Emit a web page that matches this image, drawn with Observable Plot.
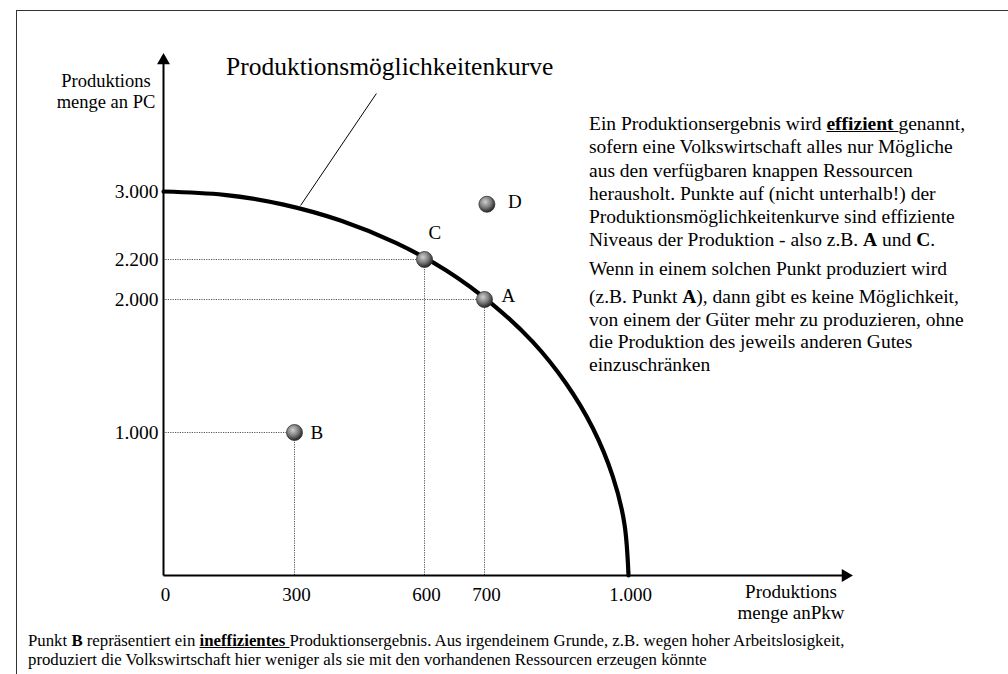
<!DOCTYPE html>
<html>
<head>
<meta charset="utf-8">
<script src="https://cdn.jsdelivr.net/npm/d3@7"></script>
<script src="https://cdn.jsdelivr.net/npm/@observablehq/plot@0.6"></script>
<style>
  html, body { margin: 0; padding: 0; background: #fff; }
  body, .t { font-family: "Liberation Serif", "Times New Roman", serif; color: #000; }
  #wrap { position: relative; width: 1008px; height: 674px; overflow: hidden; }
  #frame { position: absolute; left: 16px; top: 10px; width: 1100px; height: 800px;
           border-left: 1.5px solid #333; border-top: 1.5px solid #333; }
  #chart { position: absolute; left: 0; top: 0; }
  .t { position: absolute; white-space: nowrap; }
  #title { left: 226px; top: 53.5px; font-size: 25.5px; line-height: 25.5px; }
  #ytitle { left: 36px; top: 71px; width: 140px; text-align: center; font-size: 18.5px; line-height: 21px; }
  #xtitle { left: 721px; top: 581px; width: 140px; text-align: center; font-size: 19px; line-height: 21px; }
  #para { left: 589px; top: 112px; font-size: 19.5px; line-height: 23.3px; }
  #para .p2 { margin-top: 5.5px; }
  #para .p3 { margin-top: 5.5px; line-height: 22.5px; }
  #cap { left: 28px; top: 631px; font-size: 16.8px; line-height: 19px; }
</style>
</head>
<body>
<div id="wrap">
  <div id="frame"></div>
  <div id="chart"></div>
  <div class="t" id="title">Produktionsmöglichkeitenkurve</div>
  <div class="t" id="ytitle">Produktions<br>menge an PC</div>
  <div class="t" id="xtitle">Produktions<br>menge anPkw</div>
  <div class="t" id="para">
    <div>Ein Produktionsergebnis wird <b><u>effizient </u></b>genannt,<br>
    sofern eine Volkswirtschaft alles nur Mögliche<br>
    aus den verfügbaren knappen Ressourcen<br>
    herausholt. Punkte auf (nicht unterhalb!) der<br>
    Produktionsmöglichkeitenkurve sind effiziente<br>
    Niveaus der Produktion - also z.B. <b>A</b> und <b>C</b>.</div>
    <div class="p2">Wenn in einem solchen Punkt produziert wird</div>
    <div class="p3">(z.B. Punkt <b>A</b>), dann gibt es keine Möglichkeit,<br>
    von einem der Güter mehr zu produzieren, ohne<br>
    die Produktion des jeweils anderen Gutes<br>
    einzuschränken</div>
  </div>
  <div class="t" id="cap">Punkt <b>B</b> repräsentiert ein <b><u>ineffizientes </u></b>Produktionsergebnis. Aus irgendeinem Grunde, z.B. wegen hoher Arbeitslosigkeit,<br>produziert die Volkswirtschaft hier weniger als sie mit den vorhandenen Ressourcen erzeugen könnte</div>
</div>
<script>
// ---- data ----
const xTicks = [0, 300, 600, 700, 1000];          // PKW
const yTicks = [1000, 2000, 2200, 3000];          // PC
const pointNames = ["A", "B", "C", "D"];
const pointX = [700, 300, 600, 705];
const pointY = [2000, 1000, 2200, 2850];
const guideNames = ["A", "B", "C"];               // points with dotted guides
// production possibility curve
const curveX = [0, 139, 275, 408, 534, 637, 716, 800, 870, 926, 967, 992, 1000];
const curveY = [3000, 2961, 2846, 2656, 2395, 2144, 1966, 1683, 1368, 1030, 695, 350, 0];
// leader line from label to curve
const leader = [{x1: 314, y1: 2835, x2: 489, y2: 3374}];
const axisEnd = {x: 1500, y: 3500};

// ---- layout (scale configuration; the drawing is not to scale) ----
const xDomain = [0, 300, 600, 700, 1000, 1500];
const xRange  = [163, 294, 424, 484, 628, 845];
const yDomain = [0, 1000, 2000, 2200, 3000, 3500];
const yRange  = [575, 432, 299, 259, 191, 60];
const labelOffset = {A: [17, -4], B: [16, 0], C: [4, -27], D: [21, -2]};

const points = pointNames.map((n, i) => ({name: n, x: pointX[i], y: pointY[i]}));
const guides = points.filter(p => guideNames.includes(p.name));
const curve = curveX.map((x, i) => ({x, y: curveY[i]}));
const de = d3.formatLocale({decimal: ",", thousands: ".", grouping: [3], currency: ["", " €"]});
const fmt = de.format(",");

const chart = Plot.plot({
  width: 1008,
  height: 674,
  margin: 0,
  style: {background: "transparent", fontFamily: "'Liberation Serif','Times New Roman',serif", fontSize: "19px", overflow: "visible"},
  x: {type: "linear", domain: xDomain, range: xRange, axis: null},
  y: {type: "linear", domain: yDomain, range: yRange, axis: null},
  marks: [
    // dotted guides
    Plot.ruleY(guides, {y: "y", x1: () => 0, x2: "x", stroke: "#555", strokeWidth: 1, strokeDasharray: "1.2,1.2"}),
    Plot.ruleX(guides, {x: "x", y1: () => 0, y2: "y", stroke: "#555", strokeWidth: 1, strokeDasharray: "1.2,1.2"}),
    // axes
    Plot.link([axisEnd], {x1: () => 0, y1: () => 0, x2: d => d.x, y2: () => 0, stroke: "black", strokeWidth: 2}),
    Plot.link([axisEnd], {x1: () => 0, y1: () => 0, x2: () => 0, y2: d => d.y, stroke: "black", strokeWidth: 2}),
    Plot.dot([axisEnd], {x: () => 0, y: d => d.y, symbol: "triangle", r: 4.8, fill: "black", stroke: null}),
    Plot.dot([axisEnd], {x: d => d.x, y: () => 0, symbol: "triangle", r: 4.8, fill: "black", stroke: null, rotate: 90}),
    // tick labels
    Plot.text(xTicks, {x: d => d, y: () => 0, text: d => fmt(d), dy: 19, dx: 2, fontSize: 19}),
    Plot.text(yTicks, {x: () => 0, y: d => d, text: d => fmt(d), textAnchor: "end", dx: -5, fontSize: 19.5}),
    // curve and leader
    Plot.line(curve, {x: "x", y: "y", curve: "natural", stroke: "black", strokeWidth: 4.2}),
    Plot.link(leader, {x1: "x1", y1: "y1", x2: "x2", y2: "y2", stroke: "black", strokeWidth: 1}),
    // points
    Plot.dot(points, {x: "x", y: "y", r: 8, fill: "url(#ball)", stroke: "#333", strokeWidth: 0.8}),
    Plot.text(points, {x: "x", y: "y", text: "name", textAnchor: "start", fontSize: 19})
  ]
});
document.getElementById("chart").appendChild(chart);

// radial gradient for the ball-shaped points
d3.select(chart).insert("defs", ":first-child").html(
  '<radialGradient id="ball" cx="40%" cy="35%" r="65%">' +
  '<stop offset="0" stop-color="#cfcfcf"/><stop offset="0.55" stop-color="#7c7c7c"/><stop offset="1" stop-color="#262626"/>' +
  '</radialGradient>');

// per-label offsets for the point names
d3.select(chart).selectAll("g[aria-label='text']").filter((d, i, n) => i === n.length - 1)
  .selectAll("text").each(function() {
    const o = labelOffset[this.textContent];
    if (o) {
      const t = this.getAttribute("transform") || "";
      this.setAttribute("transform", `${t} translate(${o[0]},${o[1]})`);
    }
  });
</script>
</body>
</html>
